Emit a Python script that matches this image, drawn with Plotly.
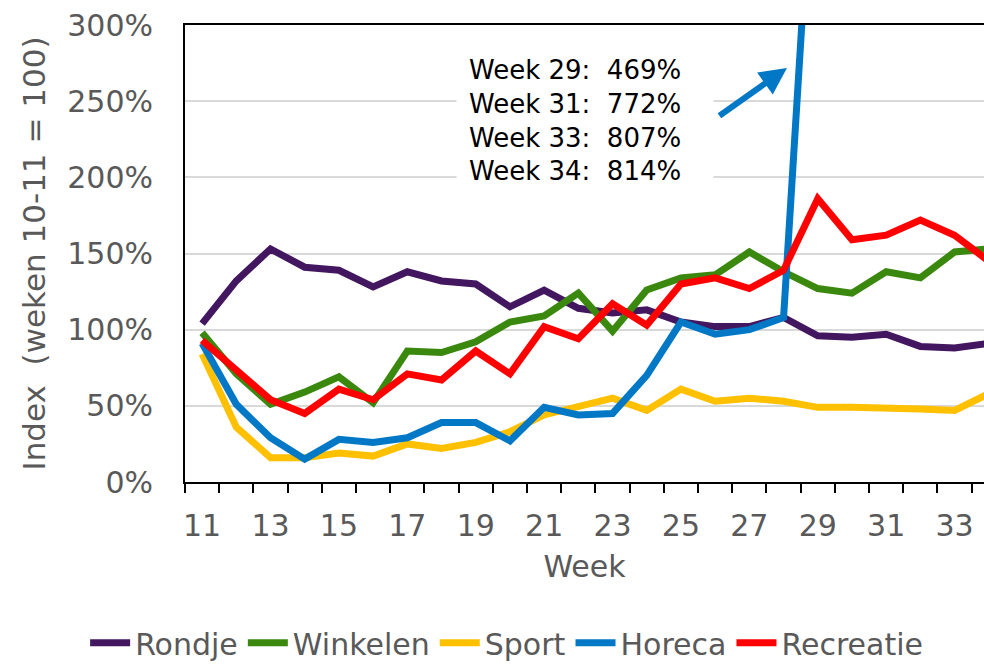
import plotly.graph_objects as go

# Weekly index per activity, weeks 10-11 = 100%
weeks = list(range(11, 35))

rondje = [104, 132, 153, 141, 139, 128, 138, 132, 130, 115, 126, 114, 111, 113, 105,
          102, 102, 108, 96, 95, 97, 89, 88, 91]
winkelen = [98, 71, 51, 59, 69, 52, 86, 85, 92, 105, 109, 124, 99, 126, 134,
            136, 151, 138, 127, 124, 138, 134, 151, 153]
sport = [84, 36, 16, 16, 19, 17, 25, 22, 26, 33, 44, 50, 55, 47, 61,
         53, 55, 53, 49, 49, 49, 48, 47, 58]
# weeks 30 and 32 are not labelled and lie above the axis range
horeca = [91, 51, 29, 15, 28, 26, 29, 39, 39, 27, 49, 44, 45, 70, 105,
          97, 100, 108, 469, None, 772, None, 807, 814]
recreatie = [93, 73, 54, 45, 61, 54, 71, 67, 86, 71, 102, 94, 117, 103, 130,
             134, 127, 139, 186, 159, 162, 172, 162, 145]

series_names = ["Rondje", "Winkelen", "Sport", "Horeca", "Recreatie"]
series_values = [rondje, winkelen, sport, horeca, recreatie]
series_colors = ["#431660", "#3A880E", "#FFC000", "#0078C6", "#FF0000"]

y_ticks = [0, 50, 100, 150, 200, 250, 300]
y_tick_text = [f"{v}%" for v in y_ticks]
x_tick_labels = [w for w in weeks if w % 2 == 1]

callout_lines = ["Week 29:\u00a0 469%", "Week 31:\u00a0 772%",
                 "Week 33:\u00a0 807%", "Week 34:\u00a0 814%"]

GREY = "#595959"
FONT = "DejaVu Sans"

fig = go.Figure()
for name, vals, col in zip(series_names, series_values, series_colors):
    fig.add_trace(go.Scatter(
        x=weeks, y=vals, name=name, mode="lines",
        line=dict(color=col, width=7),
        connectgaps=False,
    ))

fig.update_layout(
    width=984, height=665,
    margin=dict(l=185, r=0, t=25, b=183, autoexpand=False),
    paper_bgcolor="white", plot_bgcolor="white",
    font=dict(family=FONT, color=GREY, size=30),
    showlegend=True,
    legend=dict(
        orientation="h", xref="paper", yref="paper",
        x=-0.125, xanchor="left", y=-0.352, yanchor="middle",
        font=dict(family=FONT, size=30, color=GREY),
        itemwidth=40, tracegroupgap=0,
    ),
    xaxis=dict(
        range=[10.5, 33.86],
        tickmode="array", tickvals=x_tick_labels,
        ticktext=[str(w) for w in x_tick_labels],
        ticks="", ticklabelstandoff=16,
        tickfont=dict(family=FONT, size=30, color=GREY),
        showgrid=False, zeroline=False,
        showline=True, linecolor="black", linewidth=2, mirror=True,
        minor=dict(
            tickmode="array",
            tickvals=[w - 0.5 for w in weeks] + [weeks[-1] + 0.5],
            ticks="outside", ticklen=9, tickwidth=2, tickcolor="black",
            showgrid=False,
        ),
        title=dict(text="Week", font=dict(family=FONT, size=30, color=GREY),
                   standoff=14),
    ),
    yaxis=dict(
        range=[0, 300],
        tickmode="array", tickvals=y_ticks, ticktext=y_tick_text,
        ticks="", ticklabelstandoff=24,
        tickfont=dict(family=FONT, size=30, color=GREY),
        showgrid=True, gridcolor="#D9D9D9", gridwidth=2,
        zeroline=False,
        showline=True, linecolor="black", linewidth=2,
        title=dict(text="Index\u00a0 (weken 10-11 = 100)",
                   font=dict(family=FONT, size=31, color=GREY),
                   standoff=12),
    ),
)

# callout with the Horeca values that run off the top of the chart
fig.add_annotation(
    xref="paper", yref="paper", x=0.5, y=0.792,
    xanchor="center", yanchor="middle",
    text="<br>".join(callout_lines), showarrow=False,
    align="left", width=232, borderpad=12, bgcolor="white",
    font=dict(family=FONT, size=26, color="black"),
)
fig.add_annotation(
    xref="x domain", yref="y domain", x=0.7534, y=0.906,
    axref="x domain", ayref="y domain", ax=0.667, ay=0.799,
    text="", showarrow=True, arrowhead=2, arrowsize=0.9,
    arrowwidth=6, arrowcolor="#0078C6",
)

fig.write_html("out.html")
